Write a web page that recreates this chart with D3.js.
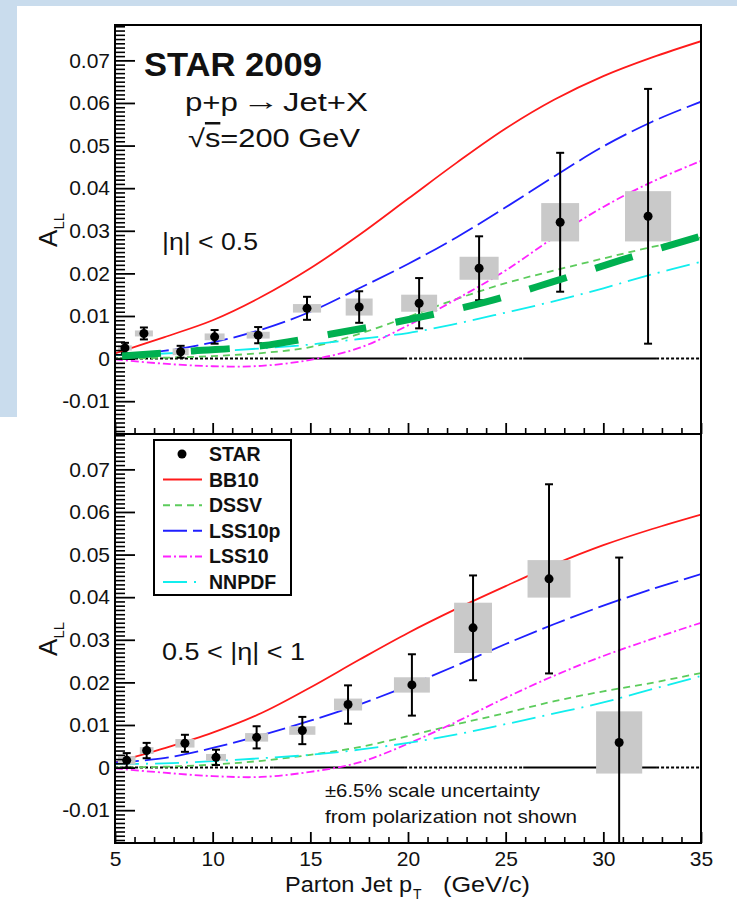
<!DOCTYPE html>
<html lang="en">
<head>
<meta charset="UTF-8">
<title>STAR 2009 inclusive jet A_LL</title>
<script src="https://d3js.org/d3.v7.min.js"></script>
<style>
  body { margin: 0; background: #fff; }
  svg { display: block; font-family: "Liberation Sans", Arial, Helvetica, sans-serif; }
  svg text { fill: #111; }
</style>
</head>
<body>
<svg id="chart" width="737" height="903"></svg>
<script>
// theory curves, sampled on a common pT grid (GeV/c)
const ptGrid = [5, 7.5, 10, 12.5, 15, 17.5, 20, 22.5, 25, 27.5, 30, 32.5, 35];

// |eta| < 0.5
const bb10Mid   = [0.0012, 0.0050, 0.0090, 0.0145, 0.0212, 0.0290, 0.0375, 0.0460, 0.0540, 0.0608, 0.0663, 0.0707, 0.0745];
const dssvMid   = [0.0000, 0.0002, 0.0006, 0.0013, 0.0027, 0.0058, 0.0098, 0.0140, 0.0177, 0.0207, 0.0235, 0.0262, 0.0284];
const lss10pMid = [0.0008, 0.0018, 0.0038, 0.0068, 0.0110, 0.0165, 0.0222, 0.0285, 0.0355, 0.0428, 0.0498, 0.0556, 0.0603];
const lss10Mid  = [-0.0002, -0.0012, -0.0018, -0.0017, -0.0003, 0.0025, 0.0078, 0.0140, 0.0207, 0.0285, 0.0356, 0.0415, 0.0464];
const nnpdfMid  = [0.0008, 0.0012, 0.0017, 0.0024, 0.0033, 0.0046, 0.0060, 0.0082, 0.0108, 0.0135, 0.0165, 0.0198, 0.0227];

// 0.5 < |eta| < 1
const bb10Fwd   = [0.0012, 0.0045, 0.0082, 0.0128, 0.0188, 0.0253, 0.0316, 0.0373, 0.0426, 0.0477, 0.0522, 0.0560, 0.0594];
const dssvFwd   = [0.0000, 0.0002, 0.0007, 0.0016, 0.0030, 0.0048, 0.0074, 0.0102, 0.0128, 0.0156, 0.0179, 0.0199, 0.0222];
const lss10pFwd = [0.0012, 0.0022, 0.0046, 0.0076, 0.0110, 0.0148, 0.0192, 0.0240, 0.0290, 0.0337, 0.0380, 0.0419, 0.0454];
const lss10Fwd  = [-0.0002, -0.0012, -0.0020, -0.0022, -0.0010, 0.0012, 0.0056, 0.0108, 0.0164, 0.0216, 0.0262, 0.0302, 0.0340];
const nnpdfFwd  = [0.0008, 0.0010, 0.0015, 0.0022, 0.0030, 0.0042, 0.0058, 0.0078, 0.0102, 0.0127, 0.0153, 0.0184, 0.0215];

// STAR points: pT, A_LL, stat error, syst error, syst box half-width in pT
const starPtMid   = [5.51, 6.48, 8.36, 10.10, 12.33, 14.83, 17.50, 20.57, 23.64, 27.79, 32.29];
const starAllMid  = [0.0025, 0.0059, 0.0016, 0.0051, 0.0055, 0.0118, 0.0121, 0.0130, 0.0212, 0.0320, 0.0334];
const starStatMid = [0.0012, 0.0014, 0.0014, 0.0016, 0.0019, 0.0027, 0.0037, 0.0059, 0.0075, 0.0163, 0.0299];
const starSysMid  = [0.0006, 0.0007, 0.0008, 0.0008, 0.0008, 0.0010, 0.0020, 0.0020, 0.0027, 0.0045, 0.0059];
const starBinMid  = [0.35, 0.46, 0.41, 0.51, 0.59, 0.72, 0.69, 0.92, 1.00, 0.97, 1.18];

const starPtFwd   = [5.60, 6.62, 8.58, 10.17, 12.25, 14.59, 16.93, 20.20, 23.33, 27.22, 30.81];
const starAllFwd  = [0.0017, 0.0040, 0.0057, 0.0024, 0.0071, 0.0087, 0.0148, 0.0194, 0.0328, 0.0443, 0.0059];
const starStatFwd = [0.0017, 0.0018, 0.0020, 0.0018, 0.0026, 0.0032, 0.0045, 0.0072, 0.0123, 0.0222, 0.0434];
const starSysFwd  = [0.0010, 0.0008, 0.0010, 0.0008, 0.0010, 0.0010, 0.0014, 0.0018, 0.0059, 0.0044, 0.0073];
const starBinFwd  = [0.45, 0.35, 0.49, 0.51, 0.59, 0.67, 0.72, 0.92, 0.97, 1.10, 1.18];

// hand-drawn thick green guide on the upper panel
const guidePt  = [5.36, 9.0, 12.5, 16.0, 20.6, 24.0, 27.4, 30.9, 35.4];
const guideAll = [0.0006, 0.0018, 0.0030, 0.0057, 0.0097, 0.0133, 0.0180, 0.0231, 0.0293];

// zero line: pieces drawn solid or dotted
const zeroFrom  = [5, 13.1, 19.8, 25.9, 32.7];
const zeroTo    = [13.1, 19.8, 25.9, 32.7, 35];
const zeroStyle = ["dot", "solid", "dot", "solid", "dot"];

// axes
const xTicks = [5, 10, 15, 20, 25, 30, 35];
const yTicks = [-0.01, 0, 0.01, 0.02, 0.03, 0.04, 0.05, 0.06, 0.07];

const modelNames = ["BB10", "DSSV", "LSS10p", "LSS10", "NNPDF"];
const modelColor = { BB10: "#ff1a1a", DSSV: "#5ccc5c", LSS10p: "#1f1fff", LSS10: "#ff22ff", NNPDF: "#11eeee" };
const modelDash  = { BB10: null, DSSV: "7 5", LSS10p: "24 6", LSS10: "8 3 2 3", NNPDF: "24 7 2 7" };

const svg = d3.select("#chart");

// light blue slide background behind the figure
svg.append("rect").attr("x", 0).attr("y", 0).attr("width", 737).attr("height", 6).attr("fill", "#c9dced");
svg.append("rect").attr("x", 0).attr("y", 0).attr("width", 17).attr("height", 417).attr("fill", "#c9dced");

const x = d3.scaleLinear().domain([5, 35]).range([115, 701]);
const yDomain = [-0.0177, 0.0783];

const panels = [
    { id: "mid", top: 25, bottom: 434, labels: false,
      curves: { BB10: bb10Mid, DSSV: dssvMid, LSS10p: lss10pMid, LSS10: lss10Mid, NNPDF: nnpdfMid },
      pt: starPtMid, all: starAllMid, stat: starStatMid, sys: starSysMid, bin: starBinMid },
    { id: "fwd", top: 434, bottom: 843, labels: true,
      curves: { BB10: bb10Fwd, DSSV: dssvFwd, LSS10p: lss10pFwd, LSS10: lss10Fwd, NNPDF: nnpdfFwd },
      pt: starPtFwd, all: starAllFwd, stat: starStatFwd, sys: starSysFwd, bin: starBinFwd }
];

const defs = svg.append("defs");

panels.forEach(p => {
    const y = d3.scaleLinear().domain(yDomain).range([p.bottom, p.top]);
    p.y = y;

    defs.append("clipPath").attr("id", "clip-" + p.id)
        .append("rect")
        .attr("x", x.range()[0]).attr("y", p.top)
        .attr("width", x.range()[1] - x.range()[0]).attr("height", p.bottom - p.top);

    const g = svg.append("g");
    const inner = g.append("g").attr("clip-path", `url(#clip-${p.id})`);

    // zero line
    zeroFrom.forEach((a, i) => {
        inner.append("line")
            .attr("x1", x(a)).attr("x2", x(zeroTo[i]))
            .attr("y1", y(0)).attr("y2", y(0))
            .attr("stroke", "#000").attr("stroke-width", 2)
            .attr("stroke-dasharray", zeroStyle[i] === "dot" ? "3 2" : null);
    });

    // theory curves
    const line = d3.line()
        .x(d => x(d[0]))
        .y(d => y(d[1]))
        .curve(d3.curveCatmullRom.alpha(0.5));

    modelNames.forEach(name => {
        inner.append("path")
            .datum(d3.zip(ptGrid, p.curves[name]))
            .attr("d", line)
            .attr("fill", "none")
            .attr("stroke", modelColor[name])
            .attr("stroke-width", 1.8)
            .attr("stroke-dasharray", modelDash[name]);
    });

    const pts = p.pt.map((v, i) => ({ pt: v, a: p.all[i], stat: p.stat[i], sys: p.sys[i], bin: p.bin[i] }));

    // systematic boxes
    inner.selectAll("rect.sys").data(pts).enter().append("rect")
        .attr("class", "sys")
        .attr("x", d => x(d.pt - d.bin))
        .attr("width", d => x(d.pt + d.bin) - x(d.pt - d.bin))
        .attr("y", d => y(d.a + d.sys))
        .attr("height", d => y(d.a - d.sys) - y(d.a + d.sys))
        .attr("fill", "#c9c9c9");

    // statistical error bars
    inner.selectAll("line.err").data(pts).enter().append("line")
        .attr("class", "err")
        .attr("x1", d => x(d.pt)).attr("x2", d => x(d.pt))
        .attr("y1", d => y(d.a - d.stat)).attr("y2", d => y(d.a + d.stat))
        .attr("stroke", "#000").attr("stroke-width", 2);

    [-1, 1].forEach(s => {
        inner.selectAll("line.cap" + s).data(pts).enter().append("line")
            .attr("x1", d => x(d.pt) - 4).attr("x2", d => x(d.pt) + 4)
            .attr("y1", d => y(d.a + s * d.stat)).attr("y2", d => y(d.a + s * d.stat))
            .attr("stroke", "#000").attr("stroke-width", 2);
    });

    inner.selectAll("circle.pt").data(pts).enter().append("circle")
        .attr("cx", d => x(d.pt)).attr("cy", d => y(d.a)).attr("r", 4.5)
        .attr("fill", "#000");

    // left axis, ticks inside
    const yMinor = d3.range(-17, 79).filter(i => i % 10 !== 0).map(i => i / 1000);
    g.append("g").attr("transform", `translate(${x.range()[0]},0)`)
        .call(d3.axisLeft(y).tickValues(yMinor).tickSize(-10).tickFormat(""))
        .call(a => a.select(".domain").remove())
        .selectAll("line").attr("stroke", "#000").attr("stroke-width", 1.6);

    const yAx = g.append("g").attr("transform", `translate(${x.range()[0]},0)`)
        .call(d3.axisLeft(y).tickValues(yTicks).tickSize(-20).tickPadding(5)
            .tickFormat(d => d === 0 ? "0" : d.toFixed(2)))
        .call(a => a.select(".domain").remove());
    yAx.selectAll("line").attr("stroke", "#000").attr("stroke-width", 1.8);
    yAx.selectAll("text").attr("font-size", 21).attr("font-family", null).style("fill", "#111");

    // bottom axis, ticks pointing up
    const xMinor = d3.range(6, 35).filter(v => v % 5 !== 0);
    g.append("g").attr("transform", `translate(0,${p.bottom})`)
        .call(d3.axisBottom(x).tickValues(xMinor).tickSize(-6).tickFormat(""))
        .call(a => a.select(".domain").remove())
        .selectAll("line").attr("stroke", "#000").attr("stroke-width", 1.6);

    const xAx = g.append("g").attr("transform", `translate(0,${p.bottom})`)
        .call(d3.axisBottom(x).tickValues(xTicks).tickSize(-11).tickPadding(8)
            .tickFormat(p.labels ? d3.format("d") : ""))
        .call(a => a.select(".domain").remove());
    xAx.selectAll("line").attr("stroke", "#000").attr("stroke-width", 1.8);
    xAx.selectAll("text").attr("font-size", 21).attr("font-family", null).style("fill", "#111");

    // frame
    g.append("rect")
        .attr("x", x.range()[0]).attr("y", p.top)
        .attr("width", x.range()[1] - x.range()[0]).attr("height", p.bottom - p.top)
        .attr("fill", "none").attr("stroke", "#000").attr("stroke-width", 2);

    // y title A_LL
    const yt = g.append("text")
        .attr("transform", `translate(57,${y(0.0262)}) rotate(-90)`)
        .attr("font-size", 26);
    yt.append("tspan").text("A");
    yt.append("tspan").attr("font-size", 15).attr("dy", 7).text("LL");
});

// thick green guide line over the upper panel
const yMid = panels[0].y;
svg.append("path")
    .datum(d3.zip(guidePt, guideAll))
    .attr("d", d3.line().x(d => x(d[0])).y(d => yMid(d[1])).curve(d3.curveMonotoneX))
    .attr("fill", "none")
    .attr("stroke", "#00b050")
    .attr("stroke-width", 7)
    .attr("stroke-dasharray", "39 30");

// annotations
function label(txt, x0, y0, size, len, bold) {
    const t = svg.append("text")
        .attr("x", x0).attr("y", y0)
        .attr("font-size", size)
        .attr("font-weight", bold ? "bold" : null)
        .text(txt);
    if (len) t.attr("textLength", len).attr("lengthAdjust", "spacingAndGlyphs");
    return t;
}

label("STAR 2009", 144, 76, 33, 178, true);
label("p+p", 185, 111, 25, 53);
label("\u2192", 242, 110, 25, 38);
label("Jet+X", 283, 111, 25, 85);
const rs = svg.append("text").attr("x", 188).attr("y", 147).attr("font-size", 25)
    .attr("textLength", 172).attr("lengthAdjust", "spacingAndGlyphs");
rs.append("tspan").text("\u221A");
rs.append("tspan").style("text-decoration", "overline").text("s");
rs.append("tspan").text("=200 GeV");

label("|\u03B7| < 0.5", 162, 250, 23, 96);
label("0.5 < |\u03B7| < 1", 162, 660, 23, 143);
label("\u00B16.5% scale uncertainty", 325, 797, 19, 215);
label("from polarization not shown", 325, 823, 19, 252);

// x title
label("Parton Jet p", 285, 892, 22, 127);
label("T", 413, 899, 14);
label("(GeV/c)", 443, 892, 22, 87);

// legend
const legendNames = ["STAR"].concat(modelNames);
const leg = svg.append("g");
leg.append("rect").attr("x", 154).attr("y", 440).attr("width", 137).attr("height", 155)
    .attr("fill", "#fff").attr("stroke", "#000").attr("stroke-width", 2);

legendNames.forEach((name, i) => {
    const cy = 454 + i * 25.6;
    if (name === "STAR") {
        leg.append("circle").attr("cx", 182).attr("cy", cy).attr("r", 4.5).attr("fill", "#000");
    } else {
        leg.append("line")
            .attr("x1", 163).attr("x2", 202).attr("y1", cy).attr("y2", cy)
            .attr("stroke", modelColor[name]).attr("stroke-width", 2)
            .attr("stroke-dasharray", modelDash[name]);
    }
    leg.append("text")
        .attr("x", 209).attr("y", cy + 7)
        .attr("font-size", 19.5).attr("font-weight", "bold")
        .text(name);
});
</script>
</body>
</html>
